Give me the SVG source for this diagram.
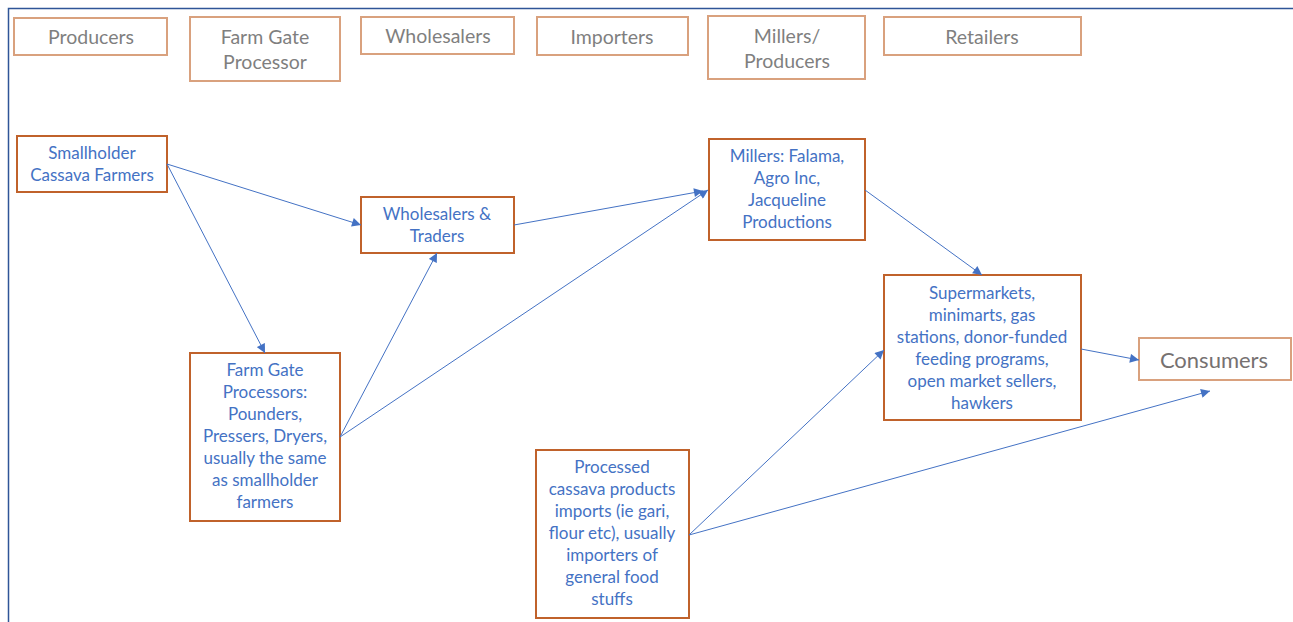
<svg xmlns="http://www.w3.org/2000/svg" width="1293" height="622" viewBox="0 0 1293 622">
  <style>
    .frame { fill: none; stroke: #2F5597; stroke-width: 1.5; }
    .head { fill: #ffffff; stroke: #D9A17E; stroke-width: 2; }
    .node { fill: #ffffff; stroke: #C0622B; stroke-width: 2; }
    .htxt { font-family: Lato, "Open Sans", sans-serif; font-size: 19.5px; fill: #7F7F7F; text-anchor: middle; }
    .ntxt { font-family: Lato, "Open Sans", sans-serif; font-size: 17px; fill: #4472C4; text-anchor: middle; }
    .ctxt { font-family: Lato, "Open Sans", sans-serif; font-size: 22px; fill: #767171; text-anchor: middle; }
    .link { fill: none; stroke: #4472C4; stroke-width: 1; marker-end: url(#arrow); }
  </style>
  <defs>
    <marker id="arrow" viewBox="0 0 10 10" refX="10" refY="5" markerWidth="10" markerHeight="9" markerUnits="userSpaceOnUse" orient="auto">
      <path d="M0,0 L10,5 L0,10 Z" fill="#4472C4"/>
    </marker>
  </defs>

  <rect width="1293" height="622" fill="#ffffff"/>
  <path class="frame" d="M8.5,622 V8.5 H1293"/>

  <!-- column headings -->
  <g id="head-producers">
    <rect class="head" x="14" y="18" width="153" height="37"/>
    <text class="htxt" x="91" y="43.5">Producers</text>
  </g>
  <g id="head-farmgate">
    <rect class="head" x="190" y="17" width="150" height="64"/>
    <text class="htxt" x="265" y="43.5">Farm Gate</text>
    <text class="htxt" x="265" y="68.5">Processor</text>
  </g>
  <g id="head-wholesalers">
    <rect class="head" x="361" y="17" width="153" height="37"/>
    <text class="htxt" x="438" y="42.5">Wholesalers</text>
  </g>
  <g id="head-importers">
    <rect class="head" x="537" y="17" width="151" height="38"/>
    <text class="htxt" x="612" y="43.5">Importers</text>
  </g>
  <g id="head-millers">
    <rect class="head" x="708" y="16" width="157" height="63"/>
    <text class="htxt" x="787" y="42.5">Millers/</text>
    <text class="htxt" x="787" y="67.5">Producers</text>
  </g>
  <g id="head-retailers">
    <rect class="head" x="884" y="17" width="197" height="38"/>
    <text class="htxt" x="982" y="43.5">Retailers</text>
  </g>
  <g id="consumers">
    <rect class="head" x="1139" y="338" width="152" height="42"/>
    <text class="ctxt" x="1214" y="367.5">Consumers</text>
  </g>

  <!-- actors -->
  <g id="smallholder">
    <rect class="node" x="17" y="136" width="150" height="56"/>
    <text class="ntxt" x="92" y="158.5">Smallholder</text>
    <text class="ntxt" x="92" y="180.5">Cassava Farmers</text>
  </g>
  <g id="wholesalers-traders">
    <rect class="node" x="361" y="197" width="153" height="56"/>
    <text class="ntxt" x="437" y="219.5">Wholesalers &amp;</text>
    <text class="ntxt" x="437" y="241.5">Traders</text>
  </g>
  <g id="millers">
    <rect class="node" x="709" y="139" width="156" height="101"/>
    <text class="ntxt" x="787" y="161.5">Millers: Falama,</text>
    <text class="ntxt" x="787" y="183.5">Agro Inc,</text>
    <text class="ntxt" x="787" y="205.5">Jacqueline</text>
    <text class="ntxt" x="787" y="227.5">Productions</text>
  </g>
  <g id="retail-outlets">
    <rect class="node" x="884" y="275" width="197" height="145"/>
    <text class="ntxt" x="982" y="298.5">Supermarkets,</text>
    <text class="ntxt" x="982" y="320.5">minimarts, gas</text>
    <text class="ntxt" x="982" y="342.5">stations, donor-funded</text>
    <text class="ntxt" x="982" y="364.5">feeding programs,</text>
    <text class="ntxt" x="982" y="386.5">open market sellers,</text>
    <text class="ntxt" x="982" y="408.5">hawkers</text>
  </g>
  <g id="farmgate-processors">
    <rect class="node" x="190" y="353" width="150" height="168"/>
    <text class="ntxt" x="265" y="375.5">Farm Gate</text>
    <text class="ntxt" x="265" y="397.5">Processors:</text>
    <text class="ntxt" x="265" y="419.5">Pounders,</text>
    <text class="ntxt" x="265" y="441.5">Pressers, Dryers,</text>
    <text class="ntxt" x="265" y="463.5">usually the same</text>
    <text class="ntxt" x="265" y="485.5">as smallholder</text>
    <text class="ntxt" x="265" y="507.5">farmers</text>
  </g>
  <g id="importers">
    <rect class="node" x="536" y="450" width="153" height="168"/>
    <text class="ntxt" x="612" y="472.5">Processed</text>
    <text class="ntxt" x="612" y="494.5">cassava products</text>
    <text class="ntxt" x="612" y="516.5">imports (ie gari,</text>
    <text class="ntxt" x="612" y="538.5">flour etc), usually</text>
    <text class="ntxt" x="612" y="560.5">importers of</text>
    <text class="ntxt" x="612" y="582.5">general food</text>
    <text class="ntxt" x="612" y="604.5">stuffs</text>
  </g>

  <!-- flows -->
  <g id="connectors">
    <line class="link" x1="167" y1="164" x2="361" y2="225"/>
    <line class="link" x1="167" y1="164" x2="265" y2="353"/>
    <line class="link" x1="340" y1="437" x2="437" y2="253"/>
    <line class="link" x1="340" y1="437" x2="708" y2="190"/>
    <line class="link" x1="514" y1="225" x2="703" y2="191"/>
    <line class="link" x1="865" y1="190" x2="982" y2="275"/>
    <line class="link" x1="1081" y1="349" x2="1139" y2="360"/>
    <line class="link" x1="689" y1="535" x2="884" y2="350"/>
    <line class="link" x1="689" y1="535" x2="1210" y2="391"/>
  </g>
</svg>
